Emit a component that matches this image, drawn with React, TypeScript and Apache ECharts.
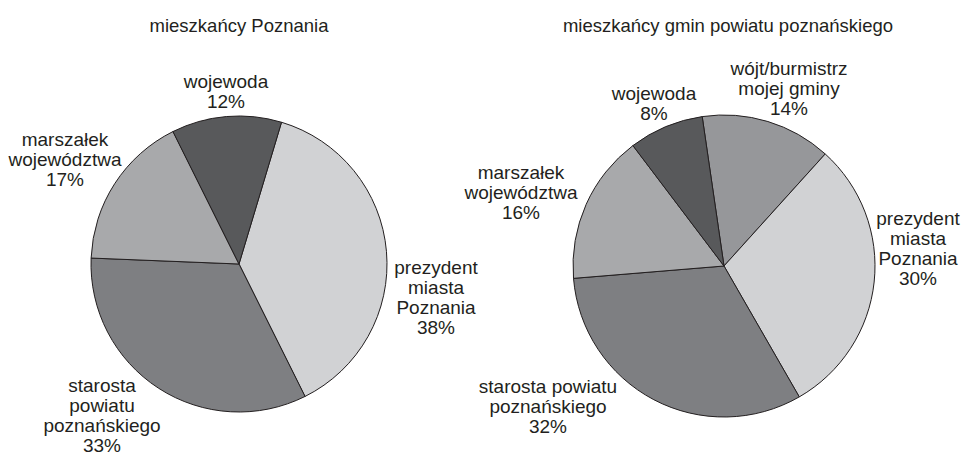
import React, { useEffect, useRef } from "react";
import * as echarts from "echarts";

// Data
const leftTitle = "mieszkańcy Poznania";
const leftNames = ["prezydent\nmiasta\nPoznania", "starosta\npowiatu\npoznańskiego", "marszałek\nwojewództwa", "wojewoda"];
const leftValues = [38, 33, 17, 12];

const rightTitle = "mieszkańcy gmin powiatu poznańskiego";
const rightNames = ["wójt/burmistrz\nmojej gminy", "prezydent\nmiasta\nPoznania", "starosta powiatu\npoznańskiego", "marszałek\nwojewództwa", "wojewoda"];
const rightValues = [14, 30, 32, 16, 8];

// Styles / layout
const leftColors = ["#d1d2d4", "#7e7f82", "#a8a9ab", "#58595b"];
const rightColors = ["#96979a", "#d1d2d4", "#7e7f82", "#a8a9ab", "#58595b"];
const leftCenter = [239, 264];
const rightCenter = [724, 266];
const leftRadius = 148;
const rightRadius = 151;
// label centre offsets relative to the pie centre
const leftLabelOffsets = [[197, 33], [-137, 151], [-174, -105], [-13, -173]];
const rightLabelOffsets = [[65, -178], [194, -18], [-176, 140], [-203, -74], [-70, -163]];

const FONT = "'Liberation Sans', Arial, Helvetica, sans-serif";
const TEXT = "#231f20";

function makeSeries(names: string[], values: number[], colors: string[], center: number[], radius: number, startAngle: number, offsets: number[][]) {
  return {
    type: "pie",
    center: center,
    radius: radius,
    startAngle: startAngle,
    clockwise: true,
    avoidLabelOverlap: false,
    silent: true,
    itemStyle: { borderColor: TEXT, borderWidth: 1 },
    label: {
      show: true,
      position: "outside",
      width: 170,
      formatter: (p: any) => `${p.name}\n${p.value}%`,
      fontFamily: FONT,
      fontSize: 19,
      lineHeight: 20,
      color: TEXT,
    },
    labelLine: { show: false },
    labelLayout: (p: any) => {
      const o = offsets[p.dataIndex];
      return { x: center[0] + o[0], y: center[1] + o[1], align: "center", verticalAlign: "middle" };
    },
    data: names.map((n, i) => ({ name: n, value: values[i], itemStyle: { color: colors[i] } })),
  };
}

export default function App() {
  const ref = useRef<HTMLDivElement>(null);
  useEffect(() => {
    if (!ref.current) return;
    const chart = echarts.init(ref.current, undefined, { renderer: "svg" });
    chart.setOption({
      animation: false,
      backgroundColor: "#ffffff",
      title: [
        { text: leftTitle, left: 234, top: 11, textAlign: "center", textStyle: { fontFamily: FONT, fontSize: 18.5, fontWeight: "normal", color: TEXT } },
        { text: rightTitle, left: 723, top: 11, textAlign: "center", textStyle: { fontFamily: FONT, fontSize: 18.5, fontWeight: "normal", color: TEXT } },
      ],
      series: [
        makeSeries(leftNames, leftValues, leftColors, leftCenter, leftRadius, 73.3, leftLabelOffsets),
        makeSeries(rightNames, rightValues, rightColors, rightCenter, rightRadius, 98.3, rightLabelOffsets),
      ],
    });
    return () => chart.dispose();
  }, []);
  return <div ref={ref} style={{ position: "fixed", left: 0, top: 0, width: 961, height: 455 }} />;
}
